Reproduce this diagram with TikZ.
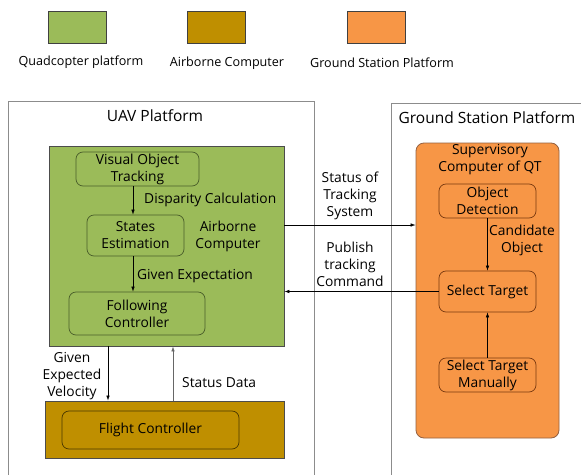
\documentclass[tikz,border=0pt]{standalone}
\usepackage{fontspec}
\setmainfont{Open Sans}
\usetikzlibrary{arrows.meta,calc}
\definecolor{quadgreen}{HTML}{9BBB59}
\definecolor{airbrown}{HTML}{BF8F00}
\definecolor{gsorange}{HTML}{F79646}
\definecolor{greenline}{HTML}{4A5E2A}
\definecolor{brownline}{HTML}{4A3800}
\definecolor{orangeline}{HTML}{7A3A10}
\definecolor{frame}{HTML}{8C8C8C}
\tikzset{
  txt/.style={font=\fontsize{13.8}{17}\selectfont, align=center, inner sep=0pt},
  legendtxt/.style={font=\fontsize{12.6}{15}\selectfont, inner sep=0pt},
  headtxt/.style={font=\fontsize{15.5}{18}\selectfont, inner sep=0pt},
  legendbox/.style={draw=black!75, line width=0.8pt, minimum width=58, minimum height=32, inner sep=0pt},
  platform/.style={draw=frame, line width=0.8pt},
  procbox/.style={txt, rounded corners=7pt, line width=0.7pt},
  arr/.style={-{Latex[length=5pt,width=3.5pt]}, line width=0.6pt},
}
\begin{document}
\begin{tikzpicture}[x=1pt,y=-1pt]
\useasboundingbox (0,0) rectangle (581,474);
\clip (0,0) rectangle (581,474);
\fill[white] (0,0) rectangle (581,474);

% legend
\node[legendbox, fill=quadgreen] (lg1) at (77,27) {};
\node[legendbox, fill=airbrown]  (lg2) at (216,27) {};
\node[legendbox, fill=gsorange]  (lg3) at (376,27) {};
\node[legendtxt] (lt1) at (81,62) {Quadcopter platform};
\node[legendtxt] (lt2) at (227,63) {Airborne Computer};
\node[legendtxt] (lt3) at (382,63) {Ground Station Platform};

% platform frames
\draw[platform] (8,101) rectangle (314,490);
\draw[platform] (391,103) rectangle (600,490);
\node[headtxt] (uavt) at (155,116) {UAV Platform};
\node[headtxt] (gst) at (487,118) {Ground Station Platform};

% airborne computer block
\node[draw=black!70, line width=0.8pt, fill=quadgreen, minimum width=235, minimum height=200, inner sep=0pt] (green) at (166.5,246) {};
\node[procbox, draw=greenline, minimum width=123, minimum height=34] (vot) at (137.5,169) {Visual Object\\Tracking};
\node[procbox, draw=greenline, minimum width=97, minimum height=41] (se) at (135.5,235.5) {States\\Estimation};
\node[procbox, draw=greenline, minimum width=136, minimum height=43] (fc) at (137,313.5) {Following\\Controller};
\node[txt] (abc) at (228,236) {Airborne\\Computer};
\draw[arr] (vot.south -| 133,0) -- (se.north -| 133,0);
\node[txt, anchor=west] (dc) at (144,200) {Disparity Calculation};
\draw[arr] (se.south -| 133,0) -- (fc.north -| 133,0);
\node[txt, anchor=west] (ge) at (137,276) {Given Expectation};

% flight controller block
\node[draw=black!70, line width=0.8pt, fill=airbrown, minimum width=239, minimum height=57, inner sep=0pt] (brown) at (164.5,429.5) {};
\node[procbox, draw=brownline, minimum width=177, minimum height=38] (flc) at (150.5,430) {Flight Controller};
\draw[arr] (green.south -| 108,0) -- (brown.north -| 108,0);
\node[txt] (gev) at (72,376) {Given\\Expected\\Velocity};
\draw[arr, draw=black!60] (brown.north -| 173,0) -- (green.south -| 173,0);
\node[txt, anchor=west] (sd) at (182,383) {Status Data};

% ground station block
\node[draw=orangeline!80, line width=0.8pt, fill=gsorange, rounded corners=8pt, minimum width=143, minimum height=295, inner sep=0pt] (orange) at (487.5,290.5) {};
\node[txt] (sup) at (490,160) {Supervisory\\Computer of QT};
\node[procbox, draw=orangeline, minimum width=97, minimum height=34] (od) at (487.5,201) {Object\\Detection};
\node[procbox, draw=orangeline, minimum width=97, minimum height=41] (st) at (487.5,291.5) {Select Target};
\node[procbox, draw=orangeline, minimum width=97, minimum height=34] (stm) at (487.5,375) {Select Target\\Manually};
\draw[arr] (od) -- (st);
\node[txt] (co) at (522,240.5) {Candidate\\Object};
\draw[arr] (stm) -- (st);

% links between platforms
\draw[arr] (green.east |- 0,225) -- (orange.west |- 0,225);
\node[txt] (sts) at (350,196) {Status of\\Tracking\\System};
\draw[arr] (st.west) -- (green.east |- st.west);
\node[txt] (ptc) at (350,264.5) {Publish\\tracking\\Command};
\end{tikzpicture}
\end{document}
